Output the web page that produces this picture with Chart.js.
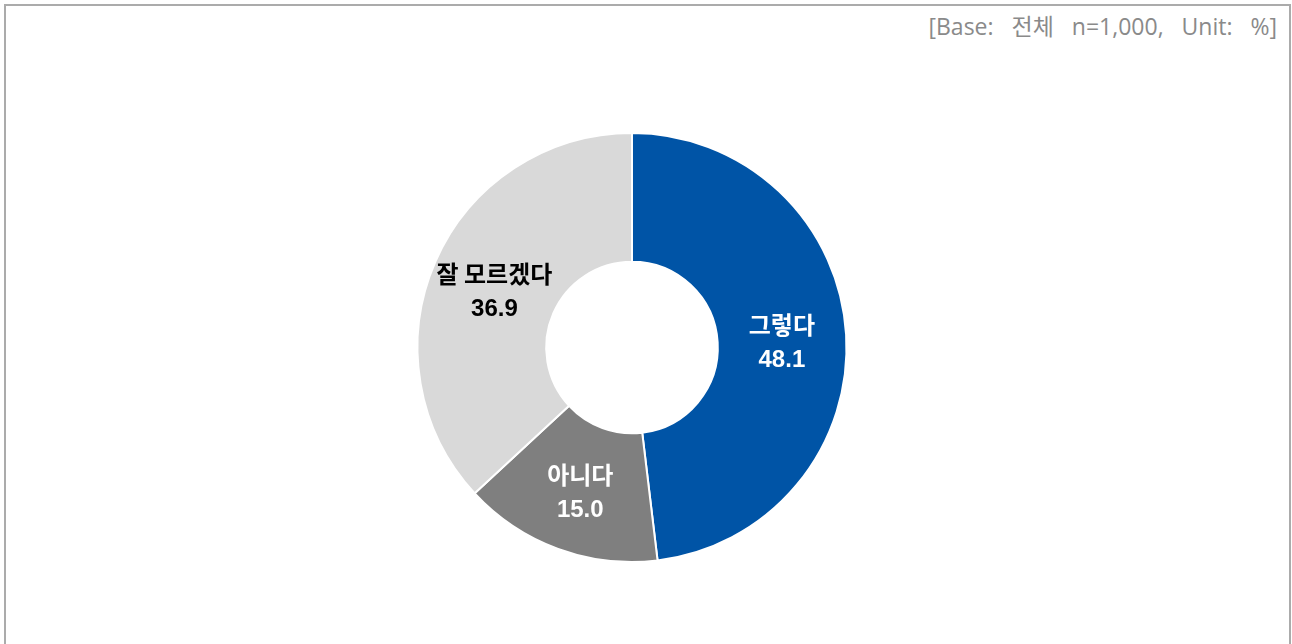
<!DOCTYPE html>
<html>
<head>
<meta charset="utf-8">
<script src="https://cdn.jsdelivr.net/npm/chart.js@4.4.1/dist/chart.umd.min.js"></script>
<style>
  html, body { margin: 0; padding: 0; background: #fff; overflow: hidden; }
  #frame { position: absolute; left: 4px; top: 4px; width: 1283px; height: 700px; border: 2px solid #ababab; box-sizing: content-box; }
  #sub { position: absolute; right: 15px; top: 8px; font-family: "Open Sans", "Noto Sans CJK KR", sans-serif; font-size: 23px; color: #8a8a8a; white-space: pre; word-spacing: 12px; }
  #c { position: absolute; left: 0; top: 0; }
</style>
</head>
<body>
<div id="frame"></div>
<div id="sub">[Base: 전체 n=1,000, Unit: %]</div>
<canvas id="c" width="1292" height="644"></canvas>
<script>
const categories = ["그렇다", "아니다", "잘 모르겠다"];
const values = [48.1, 15.0, 36.9];
const valueLabels = ["48.1", "15.0", "36.9"];
const colors = ["#0054A6", "#7F7F7F", "#D9D9D9"];
const labelColors = ["#ffffff", "#ffffff", "#000000"];

const labelPlugin = {
  id: 'arcLabels',
  afterDatasetsDraw(chart) {
    const ctx = chart.ctx;
    const meta = chart.getDatasetMeta(0);
    ctx.save();
    ctx.textAlign = 'center';
    ctx.textBaseline = 'middle';
    meta.data.forEach((arc, i) => {
      const p = arc.tooltipPosition();
      ctx.fillStyle = labelColors[i];
      ctx.font = "bold 24px 'Noto Sans CJK KR', sans-serif";
      ctx.fillText(categories[i], p.x, p.y - 14);
      ctx.font = "bold 24px 'Liberation Sans', sans-serif";
      ctx.fillText(valueLabels[i], p.x, p.y + 22);
    });
    ctx.restore();
  }
};

new Chart(document.getElementById('c'), {
  type: 'doughnut',
  data: {
    labels: categories,
    datasets: [{
      data: values,
      backgroundColor: colors,
      borderColor: '#ffffff',
      borderWidth: 2,
      hoverOffset: 0
    }]
  },
  options: {
    responsive: false,
    animation: false,
    cutout: '40%',
    rotation: 0,
    layout: { padding: { left: 332, right: 360, top: 132, bottom: 81 } },
    plugins: {
      legend: { display: false },
      tooltip: { enabled: false },
      title: { display: false }
    }
  },
  plugins: [labelPlugin]
});
</script>
</body>
</html>
